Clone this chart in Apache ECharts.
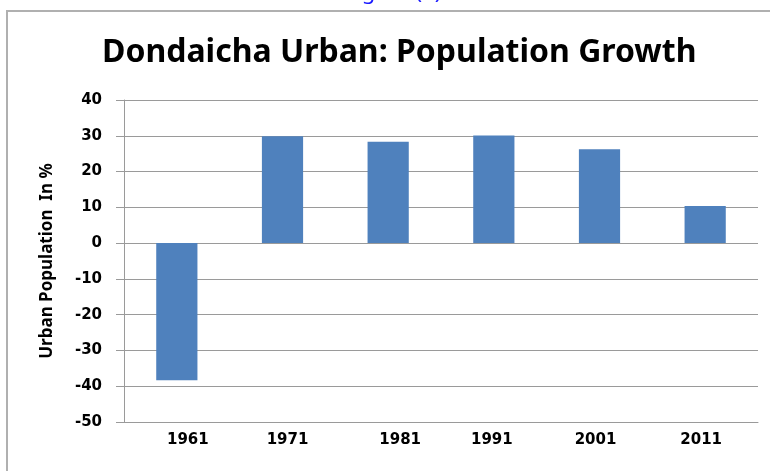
<!DOCTYPE html>
<html>
<head>
<meta charset="utf-8">
<script src="https://cdn.jsdelivr.net/npm/echarts@6/dist/echarts.min.js"></script>
<style>html,body{margin:0;padding:0;background:#fff;}#c{width:770px;height:471px;}</style>
</head>
<body>
<div id="c"></div>
<script>
const categories = ['1961', '1971', '1981', '1991', '2001', '2011'];
const growth = [-38.3, 29.9, 28.3, 30.1, 26.2, 10.4];
const yTicks = { min: -50, max: 40, interval: 10 };
const titleText = 'Dondaicha Urban: Population Growth';
const yAxisName = 'Urban Population  In %';
const captionText = 'Figure (2)';

// label nudges (style only), in px, matching the reference's slightly irregular label placement
const labelShift = [11, 5, 12, -2, -4, -4];

const catData = categories.map((c, i) => {
  const s = labelShift[i] * 2;
  return { value: c, textStyle: { padding: s >= 0 ? [0, 0, 0, s] : [0, -s, 0, 0] } };
});

const chart = echarts.init(document.getElementById('c'));
chart.setOption({
  animation: false,
  backgroundColor: '#fff',
  title: {
    text: titleText,
    left: 97,
    top: 32,
    textStyle: { fontFamily: 'Noto Sans', fontWeight: 'bold', fontSize: 32, color: '#000' }
  },
  graphic: [
    { type: 'rect', shape: { x: 7, y: 11, width: 800, height: 500 }, style: { fill: 'none', stroke: '#b0b0b0', lineWidth: 2 }, silent: true },
    { type: 'text', x: 393, y: 4, style: { text: captionText, font: '22px "Noto Sans"', fill: '#1a1aff', textAlign: 'center', textVerticalAlign: 'bottom' }, z: -1 }
  ],
  grid: { left: 124, right: 12, top: 100, bottom: 49, containLabel: false },
  xAxis: {
    type: 'category',
    data: catData,
    position: 'bottom',
    axisLine: { onZero: false, lineStyle: { color: '#9a9a9a', width: 1 } },
    axisTick: { show: false },
    axisLabel: { margin: 11, color: '#000', fontFamily: 'DejaVu Sans', fontWeight: 'bold', fontSize: 15 }
  },
  yAxis: {
    type: 'value',
    min: yTicks.min, max: yTicks.max, interval: yTicks.interval,
    name: yAxisName,
    nameLocation: 'middle',
    nameGap: 68,
    nameTextStyle: { fontFamily: 'Noto Sans', fontWeight: 'bold', fontSize: 17, color: '#000' },
    axisLine: { show: true, lineStyle: { color: '#9a9a9a', width: 1 } },
    axisTick: { show: true, inside: false, length: 8, lineStyle: { color: '#9a9a9a' } },
    axisLabel: { margin: 22, color: '#000', fontFamily: 'DejaVu Sans', fontWeight: 'bold', fontSize: 15 },
    splitLine: { show: true, lineStyle: { color: '#9a9a9a', width: 1 } }
  },
  series: [{
    type: 'bar',
    data: growth,
    barWidth: '39%',
    itemStyle: { color: '#4f81bd' }
  }]
});
</script>
</body>
</html>
